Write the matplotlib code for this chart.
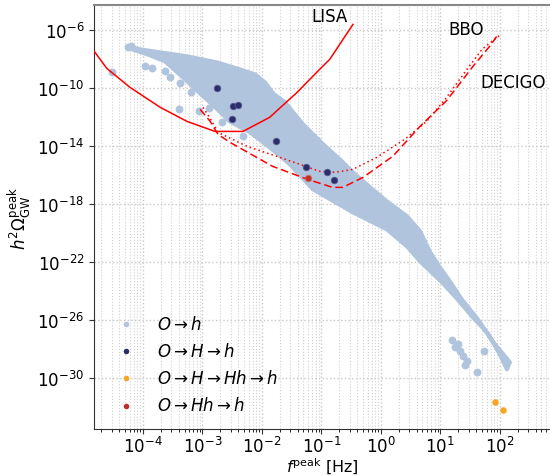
import numpy as np
import matplotlib
matplotlib.use("Agg")
import matplotlib.pyplot as plt

## values, stored as log10 (f in Hz, h^2 Omega)
# main O -> h cloud, outline of the dense band (upper edge left->right, lower edge right->left)
band_up_logf = [-4.25, -4.05, -3.71, -3.26, -2.76, -2.37, -2.12, -1.95, -1.80, -1.61, -1.31,
                -0.97, -0.69, -0.47, -0.18, 0.10, 0.44, 0.66, 0.82, 0.99, 1.16, 1.36, 1.63, 1.88, 2.17]
band_up_logo = [-7.10, -7.31, -7.52, -7.79, -8.21, -8.69, -9.03, -9.59, -10.40, -10.97, -12.48,
                -13.86, -14.90, -15.79, -16.83, -17.79, -18.83, -19.86, -21.24, -22.34, -23.31, -24.55,
                -25.93, -27.45, -28.90]
band_lo_logf = [2.12, 2.00, 1.80, 1.53, 1.29, 1.03, 0.66, 0.44, 0.10, -0.47, -1.14, -1.53,
                -1.87, -2.20, -2.54, -2.82, -3.04, -3.33, -3.63, -3.88, -4.18]
band_lo_logo = [-29.38, -28.34, -26.90, -25.72, -24.55, -23.38, -21.93, -20.90, -19.72, -18.55,
                -16.97, -15.24, -14.07, -13.03, -12.28, -11.17, -10.35, -9.24, -8.14, -7.72, -7.31]

# scattered O -> h points outside the dense band
pts_logf = [-4.52, -3.97, -3.85, -3.63, -3.55, -3.38, -3.24, -3.40, -3.06, -2.89, -3.19,
            -2.67, -2.54, -2.32, -1.65, -4.25, -4.20,
            1.19, 1.24, 1.29, 1.33, 1.38, 1.41, 1.45, 1.61, 1.73]
pts_logo = [-8.90, -8.48, -8.62, -8.83, -9.24, -9.66, -8.97, -11.45, -11.59, -11.38, -10.28,
            -12.34, -12.14, -13.31, -11.03, -7.17, -7.10,
            -27.38, -27.86, -27.66, -28.14, -28.48, -29.10, -28.83, -29.59, -28.14]

# O -> H -> h
navy_logf = [-2.76, -2.49, -2.40, -2.50, -1.76, -1.26, -0.91, -0.79]
navy_logo = [-10.00, -11.24, -11.17, -12.14, -13.66, -15.45, -15.79, -16.34]
# O -> H -> Hh -> h
orange_logf = [1.92, 2.05]
orange_logo = [-31.66, -32.21]
# O -> Hh -> h
red_logf = [-1.23]
red_logo = [-16.21]

# detector sensitivity curves
lisa_logf = [-4.82, -4.61, -4.22, -3.71, -3.26, -2.79, -2.32, -1.87, -1.41, -1.03, -0.86, -0.47]
lisa_logo = [-7.45, -8.62, -9.93, -11.31, -12.28, -12.97, -12.97, -12.0, -10.28, -8.69, -8.0, -5.59]
bbo_logf = [-3.04, -2.87, -2.74, -2.54, -1.82, -1.23, -0.81, -0.64, -0.30, 0.20, 0.66, 1.11, 1.55, 1.83, 1.95]
bbo_logo = [-11.45, -12.28, -13.17, -13.72, -15.38, -16.28, -16.83, -16.83, -16.14, -14.69,
            -12.62, -10.83, -8.48, -7.10, -6.41]
decigo_logf = [-2.99, -2.84, -2.74, -2.25, -1.70, -1.03, -0.77, -0.47, -0.07, 0.40, 0.77, 1.08, 1.41, 1.70, 2.00]
decigo_logo = [-11.31, -12.28, -13.03, -14.0, -14.76, -15.72, -15.79, -15.59, -14.76, -13.52,
               -12.28, -10.76, -8.90, -7.31, -6.34]

labels = [r"$O\to h$", r"$O\to H\to h$", r"$O\to H\to Hh\to h$", r"$O\to Hh\to h$"]
c_blue, c_navy, c_orange, c_red = "#b0c4de", "#2b2e6b", "#f5a623", "#c0302b"

p = lambda v: 10.0 ** np.asarray(v)

fig = plt.figure(figsize=(5.5, 4.77), dpi=100)
ax = fig.add_axes([0.171, 0.0985, 0.829, 0.888])
ax.set_xscale("log")
ax.set_yscale("log")

# dense band + stray points
bx = np.concatenate([p(band_up_logf), p(band_lo_logf)])
by = np.concatenate([p(band_up_logo), p(band_lo_logo)])
ax.fill(bx, by, facecolor=c_blue, edgecolor=c_blue, lw=3, joinstyle="round", zorder=2)
ax.scatter(p(pts_logf), p(pts_logo), s=32, color=c_blue, lw=0, zorder=2)

ax.plot(p(lisa_logf), p(lisa_logo), color="red", lw=1.1, zorder=3)
ax.plot(p(bbo_logf), p(bbo_logo), color="red", lw=1.1, ls=(0, (5, 2.5)), zorder=3)
ax.plot(p(decigo_logf), p(decigo_logo), color="red", lw=1.1, ls=(0, (1, 2)), zorder=3)

ax.scatter(p(navy_logf), p(navy_logo), s=22, color=c_navy, edgecolor="#55588a", lw=0.6, zorder=4)
ax.scatter(p(orange_logf), p(orange_logo), s=22, color=c_orange, lw=0, zorder=4)
ax.scatter(p(red_logf), p(red_logo), s=22, color=c_red, edgecolor="#d46a5e", lw=0.6, zorder=4)

ax.text(10 ** -0.857, 10 ** -5.03, "LISA", fontsize=12, ha="center", va="center")
ax.text(10 ** 1.43, 10 ** -5.93, "BBO", fontsize=12, ha="center", va="center")
ax.text(10 ** 2.22, 10 ** -9.59, "DECIGO", fontsize=12, ha="center", va="center")

# legend handles
for c, lab in zip([c_blue, c_navy, c_orange, c_red], labels):
    ax.scatter([], [], s=16, color=c, lw=0, label=lab)
ax.legend(loc="lower left", frameon=False, fontsize=12, labelspacing=0.55,
          handletextpad=0.9, scatterpoints=1)

ax.set_xlim(1.5e-5, 7e2)
ax.set_ylim(10 ** -33.5, 10 ** -4.28)
ax.set_xticks([1e-4, 1e-3, 1e-2, 1e-1, 1e0, 1e1, 1e2])
ax.set_yticks([1e-30, 1e-26, 1e-22, 1e-18, 1e-14, 1e-10, 1e-6])
ax.yaxis.set_minor_locator(matplotlib.ticker.NullLocator())
ax.tick_params(labelsize=12, colors="#333333", labelcolor="black")
ax.tick_params(axis="x", pad=1.5)
ax.grid(which="major", ls=":", color="#c8c8c8", lw=1.0)
ax.grid(which="minor", axis="x", ls=":", color="#d0d0d0", lw=0.8)
ax.set_axisbelow(True)

for s in ["left", "bottom"]:
    ax.spines[s].set_color("#333333")
ax.spines["top"].set_color("#888888")
ax.spines["top"].set_linewidth(1.5)
ax.spines["right"].set_visible(False)

ax.set_xlabel(r"$f^{\rm peak}$ [Hz]", fontsize=11.5, va="baseline")
ax.xaxis.set_label_coords(0.5, -0.1)
ax.set_ylabel(r"$h^2\Omega_{\rm GW}^{\rm peak}$", fontsize=12, va="center")
ax.yaxis.set_label_coords(-0.162, 0.5)

fig.savefig("out.png", dpi=100)
